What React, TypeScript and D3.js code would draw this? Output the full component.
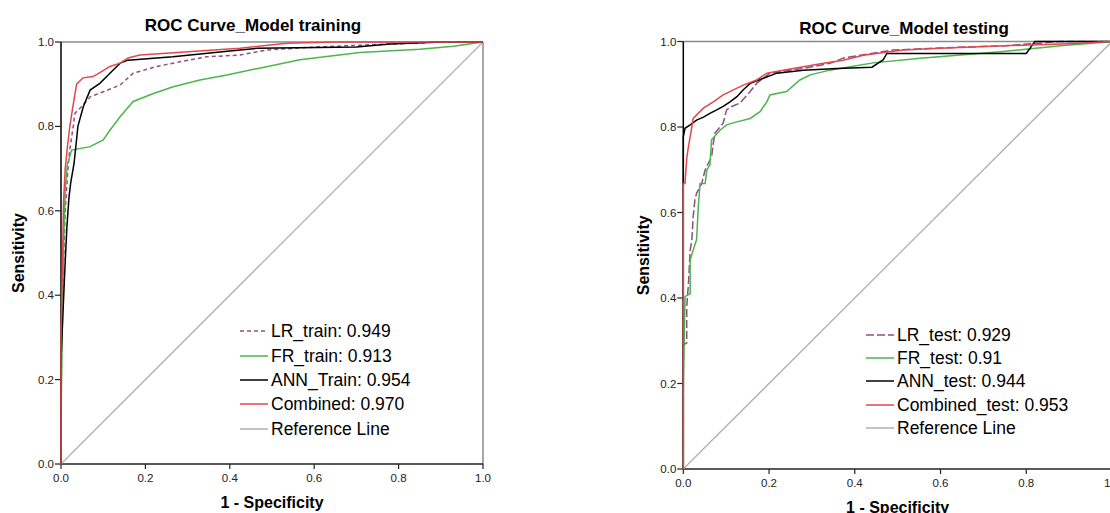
import React from "react";
import * as d3 from "d3";

// ROC points: [1 - specificity, sensitivity]
const lrTrain: [number, number][] = [[0,0],[0,0.2],[0.003,0.35],[0.006,0.48],[0.01,0.6],[0.015,0.68],[0.02,0.74],[0.029,0.8],[0.033,0.831],[0.049,0.847],[0.069,0.87],[0.1,0.882],[0.14,0.898],[0.171,0.926],[0.227,0.942],[0.282,0.953],[0.345,0.965],[0.424,0.969],[0.487,0.981],[0.6,0.988],[0.75,0.994],[0.9,1],[1,1]];
const frTrain: [number, number][] = [[0,0],[0,0.1],[0.002,0.24],[0.004,0.4],[0.007,0.55],[0.01,0.65],[0.015,0.71],[0.025,0.744],[0.069,0.752],[0.1,0.768],[0.116,0.791],[0.14,0.823],[0.171,0.859],[0.219,0.878],[0.266,0.894],[0.329,0.91],[0.393,0.922],[0.47,0.938],[0.566,0.958],[0.708,0.975],[0.85,0.983],[0.93,0.99],[1,1]];
const annTrain: [number, number][] = [[0,0],[0,0.25],[0.005,0.365],[0.01,0.48],[0.014,0.562],[0.019,0.633],[0.023,0.666],[0.031,0.713],[0.036,0.76],[0.04,0.8],[0.053,0.847],[0.069,0.886],[0.092,0.902],[0.116,0.926],[0.14,0.95],[0.159,0.957],[0.265,0.965],[0.424,0.981],[0.464,0.985],[0.7,0.988],[0.78,0.995],[0.9,1],[1,1]];
const combinedTrain: [number, number][] = [[0,0],[0,0.3],[0.003,0.45],[0.006,0.62],[0.01,0.7],[0.015,0.75],[0.021,0.8],[0.027,0.84],[0.037,0.9],[0.052,0.915],[0.076,0.918],[0.096,0.93],[0.116,0.942],[0.14,0.95],[0.159,0.962],[0.187,0.969],[0.424,0.985],[0.535,0.997],[0.65,1],[1,1]];

const lrTest: [number, number][] = [[0,0],[0,0.29],[0.008,0.295],[0.008,0.38],[0.012,0.434],[0.016,0.512],[0.02,0.536],[0.023,0.59],[0.027,0.629],[0.031,0.645],[0.043,0.668],[0.051,0.7],[0.066,0.73],[0.07,0.762],[0.074,0.786],[0.093,0.809],[0.101,0.84],[0.113,0.848],[0.132,0.856],[0.156,0.883],[0.171,0.902],[0.187,0.914],[0.202,0.926],[0.249,0.933],[0.28,0.937],[0.342,0.949],[0.373,0.961],[0.42,0.969],[0.49,0.98],[0.6,0.985],[0.75,0.99],[0.88,1],[1,1]];
const frTest: [number, number][] = [[0,0],[0,0.2],[0.004,0.403],[0.016,0.41],[0.016,0.489],[0.023,0.512],[0.031,0.536],[0.035,0.614],[0.039,0.668],[0.051,0.668],[0.055,0.7],[0.062,0.711],[0.066,0.77],[0.086,0.793],[0.101,0.805],[0.125,0.812],[0.156,0.82],[0.179,0.836],[0.195,0.859],[0.202,0.875],[0.241,0.883],[0.272,0.91],[0.296,0.922],[0.342,0.933],[0.389,0.941],[0.443,0.95],[0.553,0.961],[0.74,0.976],[0.88,0.99],[1,1]];
const annTest: [number, number][] = [[0,0],[0,0.777],[0.004,0.797],[0.016,0.805],[0.031,0.816],[0.047,0.823],[0.062,0.832],[0.078,0.84],[0.093,0.848],[0.109,0.859],[0.125,0.871],[0.14,0.887],[0.156,0.902],[0.187,0.914],[0.218,0.926],[0.28,0.933],[0.358,0.937],[0.44,0.94],[0.466,0.957],[0.475,0.972],[0.8,0.972],[0.82,1],[1,1]];
const combinedTest: [number, number][] = [[0,0],[0,0.668],[0.004,0.668],[0.008,0.727],[0.012,0.754],[0.02,0.8],[0.023,0.82],[0.047,0.844],[0.07,0.859],[0.093,0.875],[0.117,0.887],[0.14,0.898],[0.171,0.91],[0.195,0.926],[0.233,0.933],[0.28,0.941],[0.327,0.949],[0.373,0.956],[0.42,0.968],[0.513,0.98],[0.6,0.984],[0.75,0.99],[0.9,0.995],[1,1]];

const referenceLine: [number, number][] = [[0,0],[1,1]];

const trainLabels = ["LR_train: 0.949", "FR_train: 0.913", "ANN_Train: 0.954", "Combined: 0.970", "Reference Line"];
const testLabels = ["LR_test: 0.929", "FR_test: 0.91", "ANN_test: 0.944", "Combined_test: 0.953", "Reference Line"];
const tickValues = [0, 0.2, 0.4, 0.6, 0.8, 1.0];

const FONT = "'Liberation Sans', Arial, sans-serif";
const colors = { lr: "#8c4f86", fr: "#4cb54c", ann: "#000000", comb: "#e0484d", ref: "#b0b0b0" };

type Cfg = {
  x0: number; x1: number; y0: number; y1: number;
  title: string; titleX: number; titleY: number;
  yLabelX: number;
  legendX: number; legendRows: number[];
  labels: string[];
  series: [number, number][][];
  lrDash: string;
};

const Chart = ({ c }: { c: Cfg }) => {
  const x = d3.scaleLinear().domain([0, 1]).range([c.x0, c.x1]);
  const y = d3.scaleLinear().domain([0, 1]).range([c.y0, c.y1]);
  const line = d3.line<[number, number]>().x(d => x(d[0])).y(d => y(d[1]));
  const styles = [
    { stroke: colors.lr, dash: c.lrDash },
    { stroke: colors.fr, dash: "" },
    { stroke: colors.ann, dash: "" },
    { stroke: colors.comb, dash: "" },
  ];
  const legendStyles = [...styles, { stroke: colors.ref, dash: "" }];
  return (
    <g fontFamily={FONT}>
      <text x={c.titleX} y={c.titleY} textAnchor="middle" fontWeight="bold" fontSize={17}>{c.title}</text>
      {/* frame */}
      <line x1={c.x0} x2={c.x1} y1={c.y1} y2={c.y1} stroke="#8a8a8a" strokeWidth={1.5} />
      <line x1={c.x1} x2={c.x1} y1={c.y1} y2={c.y0} stroke="#8a8a8a" strokeWidth={1.5} />
      <line x1={c.x0} x2={c.x1} y1={c.y0} y2={c.y0} stroke="#222" strokeWidth={1.5} />
      <line x1={c.x0} x2={c.x0} y1={c.y1} y2={c.y0} stroke="#000" strokeWidth={1.5} />
      {tickValues.map(t => (
        <g key={"y" + t}>
          <line x1={c.x0 - 6} x2={c.x0} y1={y(t)} y2={y(t)} stroke="#222" strokeWidth={1.2} />
          <text x={c.x0 - 7} y={y(t) + 4} textAnchor="end" fontSize={11.5} fill="#222">{d3.format(".1f")(t)}</text>
        </g>
      ))}
      {tickValues.map(t => (
        <g key={"x" + t}>
          <line x1={x(t)} x2={x(t)} y1={c.y0} y2={c.y0 + 5} stroke="#222" strokeWidth={1.2} />
          <text x={x(t)} y={c.y0 + 18} textAnchor="middle" fontSize={11.5} fill="#222">{d3.format(".1f")(t)}</text>
        </g>
      ))}
      <text x={(c.x0 + c.x1) / 2} y={c.y0 + 44} textAnchor="middle" fontWeight="bold" fontSize={16}>1 - Specificity</text>
      <text transform={`translate(${c.yLabelX},${(c.y0 + c.y1) / 2}) rotate(-90)`} textAnchor="middle" fontWeight="bold" fontSize={16}>Sensitivity</text>
      <path d={line(referenceLine) || ""} fill="none" stroke={colors.ref} strokeWidth={1.3} />
      {c.series.map((s, i) => (
        <path key={i} d={line(s) || ""} fill="none" stroke={styles[i].stroke} strokeWidth={1.5}
          strokeDasharray={styles[i].dash || undefined} />
      ))}
      {c.labels.map((lab, i) => (
        <g key={lab}>
          <line x1={c.legendX} x2={c.legendX + 28} y1={c.legendRows[i]} y2={c.legendRows[i]}
            stroke={legendStyles[i].stroke} strokeWidth={1.5} strokeDasharray={legendStyles[i].dash || undefined} />
          <text x={c.legendX + 31} y={c.legendRows[i] + 6} fontSize={17.5} fill="#000">{lab}</text>
        </g>
      ))}
    </g>
  );
};

export default function App() {
  const left: Cfg = {
    x0: 61, x1: 483, y0: 464, y1: 42,
    title: "ROC Curve_Model training", titleX: 253, titleY: 31,
    yLabelX: 24,
    legendX: 240, legendRows: [331, 356, 380, 404, 429],
    labels: trainLabels,
    series: [lrTrain, frTrain, annTrain, combinedTrain],
    lrDash: "4,3",
  };
  const right: Cfg = {
    x0: 683.3, x1: 1112, y0: 469, y1: 41.5,
    title: "ROC Curve_Model testing", titleX: 904, titleY: 34,
    yLabelX: 649,
    legendX: 866, legendRows: [335, 358, 381, 405, 428],
    labels: testLabels,
    series: [lrTest, frTest, annTest, combinedTest],
    lrDash: "8,3",
  };
  return (
    <svg width={1110} height={513} style={{ position: "absolute", left: 0, top: 0, background: "#fff" }}>
      <rect width={1110} height={513} fill="#fff" />
      <Chart c={left} />
      <Chart c={right} />
    </svg>
  );
}
